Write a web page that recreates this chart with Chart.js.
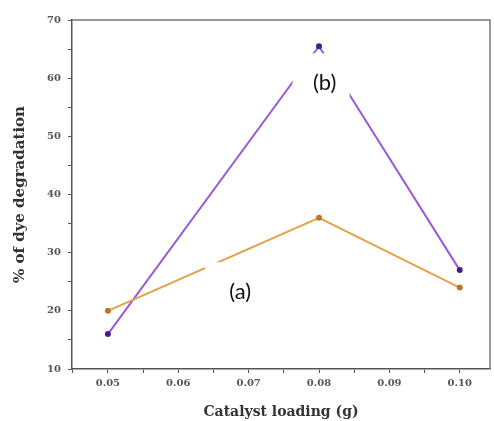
<!DOCTYPE html>
<html>
<head>
<meta charset="utf-8">
<script src="https://cdn.jsdelivr.net/npm/chart.js@4"></script>
<style>
  html, body { margin: 0; padding: 0; background: #fff; }
  #wrap { width: 494px; height: 421px; }
</style>
</head>
<body>
<div id="wrap"><canvas id="c"></canvas></div>
<script>
// catalyst loading (g)
const loadings = [0.05, 0.08, 0.10];
// % of dye degradation
const seriesA = [20, 36, 24];
const seriesB = [16, 65.5, 27];
// panel labels, placed in data space
const panelLabels = [
  { text: "(a)", x: 0.0688, y: 23.2 },
  { text: "(b)", x: 0.0808, y: 59.1 }
];

const toPoints = vals => vals.map((v, i) => ({ x: loadings[i], y: v }));

// white boxes with (a)/(b) drawn over the plot
const labelBoxes = {
  id: "labelBoxes",
  afterDatasetsDraw(chart) {
    const { ctx, scales } = chart;
    ctx.save();
    ctx.font = "22px Lato";
    ctx.textAlign = "center";
    ctx.textBaseline = "middle";
    panelLabels.forEach(l => {
      const px = scales.x.getPixelForValue(l.x);
      const py = scales.y.getPixelForValue(l.y);
      ctx.fillStyle = "#fff";
      if (l.text === "(a)") ctx.fillRect(px - 35, py - 30, 95, 58);
      else ctx.fillRect(px - 32, py - 30, 57, 52);
      ctx.fillStyle = "#111";
      ctx.fillText(l.text, px, py);
    });
    ctx.restore();
  }
};

const tickFont = { family: "DejaVu Serif", size: 10, weight: "bold" };

new Chart(document.getElementById("c"), {
  type: "line",
  data: {
    datasets: [
      {
        label: "(a)",
        data: toPoints(seriesA),
        borderColor: "#e3a24a",
        backgroundColor: "#b8782a",
        borderWidth: 2,
        pointRadius: 3,
        pointBorderWidth: 0
      },
      {
        label: "(b)",
        data: toPoints(seriesB),
        borderColor: "#9b5ad8",
        backgroundColor: "#4a1a8a",
        borderWidth: 2,
        pointRadius: 3,
        pointBorderWidth: 0
      }
    ]
  },
  options: {
    responsive: true,
    maintainAspectRatio: false,
    animation: false,
    layout: { padding: { top: 20, right: 2, left: 0, bottom: 0 } },
    plugins: { legend: { display: false }, tooltip: { enabled: false } },
    scales: {
      x: {
        type: "linear",
        min: 0.0449,
        max: 0.1043,
        afterFit(s) { s.height = 52; },
        border: { color: "#555", width: 1.5 },
        grid: { drawOnChartArea: false, tickLength: 4, color: "#555" },
        ticks: {
          stepSize: 0.005,
          includeBounds: false,
          color: "#555",
          font: tickFont,
          padding: 4,
          callback: v => {
            const k = Math.round(v * 1000);
            if (k < 50 || k > 100 || k % 10 !== 0) return "";
            return (k / 1000).toFixed(2);
          }
        },
        title: {
          display: true,
          text: "Catalyst loading (g)",
          color: "#333",
          font: { family: "DejaVu Serif", size: 14, weight: "bold" },
          padding: { top: 7, bottom: 0 }
        }
      },
      y: {
        min: 10,
        max: 70,
        afterFit(s) { s.width = 72; },
        border: { color: "#555", width: 1.5 },
        grid: { drawOnChartArea: false, tickLength: 4, color: "#555" },
        ticks: {
          stepSize: 5,
          color: "#555",
          font: tickFont,
          padding: 7,
          callback: v => (v % 10 === 0 ? String(v) : "")
        },
        title: {
          display: true,
          text: "% of dye degradation",
          color: "#333",
          font: { family: "DejaVu Serif", size: 15, weight: "bold" },
          padding: { top: 11, bottom: 0 }
        }
      }
    }
  },
  plugins: [
    labelBoxes,
    {
      id: "frame",
      afterDraw(chart) {
        const { ctx, chartArea: a } = chart;
        ctx.save();
        ctx.strokeStyle = "#777";
        ctx.lineWidth = 1.5;
        ctx.beginPath();
        ctx.moveTo(a.left, a.top);
        ctx.lineTo(a.right, a.top);
        ctx.lineTo(a.right, a.bottom);
        ctx.stroke();
        ctx.restore();
      }
    }
  ]
});
</script>
</body>
</html>
